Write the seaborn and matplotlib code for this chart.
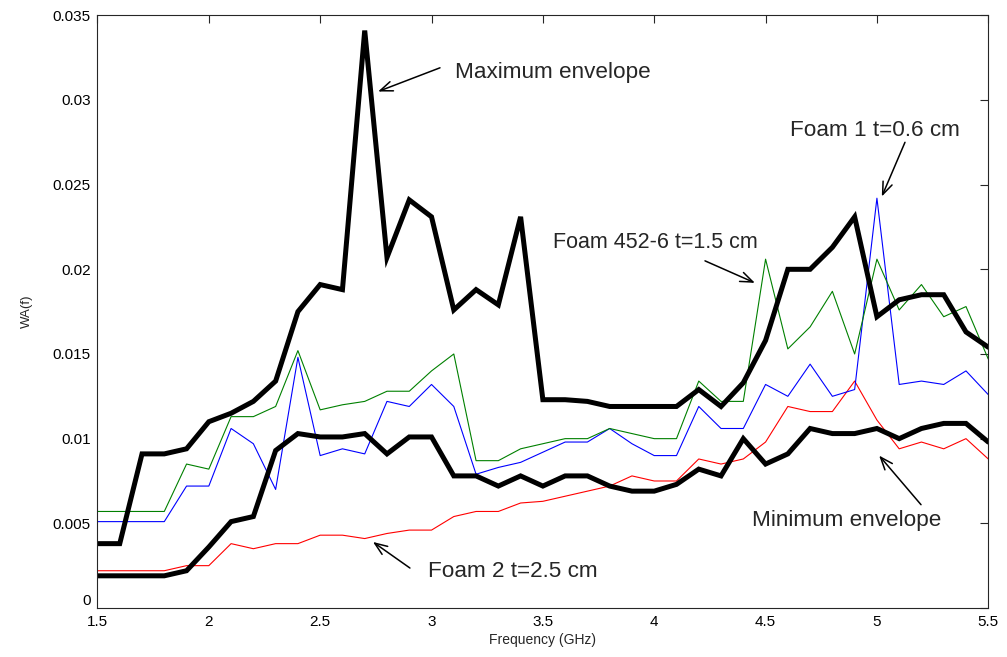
import numpy as np
import pandas as pd
import matplotlib
matplotlib.use("Agg")
import matplotlib.pyplot as plt
import seaborn as sns

freq = [round(1.5 + 0.1 * i, 1) for i in range(41)]

max_env = [0.0038, 0.0038, 0.0091, 0.0091, 0.0094, 0.0110, 0.0115, 0.0122, 0.0134, 0.0175,
           0.0191, 0.0188, 0.0341, 0.0207, 0.0241, 0.0231, 0.0176, 0.0188, 0.0179, 0.0231,
           0.0123, 0.0123, 0.0122, 0.0119, 0.0119, 0.0119, 0.0119, 0.0129, 0.0119, 0.0133,
           0.0158, 0.0200, 0.0200, 0.0213, 0.0231, 0.0172, 0.0182, 0.0185, 0.0185, 0.0163,
           0.0154]

min_env = [0.0019, 0.0019, 0.0019, 0.0019, 0.0022, 0.0036, 0.0051, 0.0054, 0.0093, 0.0103,
           0.0101, 0.0101, 0.0103, 0.0091, 0.0101, 0.0101, 0.0078, 0.0078, 0.0072, 0.0078,
           0.0072, 0.0078, 0.0078, 0.0072, 0.0069, 0.0069, 0.0073, 0.0082, 0.0078, 0.0100,
           0.0085, 0.0091, 0.0106, 0.0103, 0.0103, 0.0106, 0.0100, 0.0106, 0.0109, 0.0109,
           0.0098]

foam2 = [0.0022, 0.0022, 0.0022, 0.0022, 0.0025, 0.0025, 0.0038, 0.0035, 0.0038, 0.0038,
         0.0043, 0.0043, 0.0041, 0.0044, 0.0046, 0.0046, 0.0054, 0.0057, 0.0057, 0.0062,
         0.0063, 0.0066, 0.0069, 0.0072, 0.0078, 0.0075, 0.0075, 0.0088, 0.0085, 0.0088,
         0.0098, 0.0119, 0.0116, 0.0116, 0.0134, 0.0111, 0.0094, 0.0098, 0.0094, 0.0100,
         0.0088]

foam1 = [0.0051, 0.0051, 0.0051, 0.0051, 0.0072, 0.0072, 0.0106, 0.0097, 0.0070, 0.0148,
         0.0090, 0.0094, 0.0091, 0.0122, 0.0119, 0.0132, 0.0119, 0.0079, 0.0083, 0.0086,
         0.0092, 0.0098, 0.0098, 0.0106, 0.0097, 0.0090, 0.0090, 0.0119, 0.0106, 0.0106,
         0.0132, 0.0125, 0.0144, 0.0125, 0.0129, 0.0242, 0.0132, 0.0134, 0.0132, 0.0140,
         0.0126]

foam452 = [0.0057, 0.0057, 0.0057, 0.0057, 0.0085, 0.0082, 0.0113, 0.0113, 0.0119, 0.0152,
           0.0117, 0.0120, 0.0122, 0.0128, 0.0128, 0.0140, 0.0150, 0.0087, 0.0087, 0.0094,
           0.0097, 0.0100, 0.0100, 0.0106, 0.0103, 0.0100, 0.0100, 0.0134, 0.0122, 0.0122,
           0.0206, 0.0153, 0.0166, 0.0187, 0.0150, 0.0206, 0.0176, 0.0191, 0.0172, 0.0178,
           0.0147]

series_names = ["Foam 2", "Foam 1", "Foam 452-6", "Maximum envelope", "Minimum envelope"]
series_vals = [foam2, foam1, foam452, max_env, min_env]
colors = {"Foam 2": "#ff0000", "Foam 1": "#0000ff", "Foam 452-6": "#008000",
          "Maximum envelope": "#000000", "Minimum envelope": "#000000"}
widths = {"Foam 2": 0.8, "Foam 1": 0.8, "Foam 452-6": 0.8,
          "Maximum envelope": 3.6, "Minimum envelope": 3.6}

df = pd.concat([pd.DataFrame({"freq": freq, "wa": v, "series": n})
                for n, v in zip(series_names, series_vals)], ignore_index=True)

sns.set_style("white")
plt.rcParams['font.family'] = ['Liberation Sans', 'DejaVu Sans']

fig = plt.figure(figsize=(10.07, 6.57), dpi=100)
ax = fig.add_axes([0.0968, 0.0746, 0.8846, 0.9021])

for n in series_names:
    sub = df[df["series"] == n]
    sns.lineplot(data=sub, x="freq", y="wa", ax=ax, color=colors[n],
                 linewidth=widths[n], legend=False, estimator=None, sort=False,
                 solid_joinstyle="miter" if widths[n] > 2 else "round")

ax.set_xlim(1.5, 5.5)
ax.set_ylim(0, 0.035)
ax.set_xticks([1.5, 2, 2.5, 3, 3.5, 4, 4.5, 5, 5.5])
ax.set_xticklabels(["1.5", "2", "2.5", "3", "3.5", "4", "4.5", "5", "5.5"])
ax.set_yticks([0, 0.005, 0.01, 0.015, 0.02, 0.025, 0.03, 0.035])
ax.set_yticklabels(["0", "0.005", "0.01", "0.015", "0.02", "0.025", "0.03", "0.035"])
ax.tick_params(direction="in", length=6, width=0.8, top=True, right=True,
               labelsize=11, colors="#262626", labelcolor="black")
ax.tick_params(axis="x", pad=5)
ax.tick_params(axis="y", pad=5)
for lbl in ax.get_yticklabels():
    if lbl.get_text() == "0":
        lbl.set_va("bottom")
for s in ax.spines.values():
    s.set_color("#262626")
    s.set_linewidth(0.8)
ax.set_xlabel("Frequency (GHz)", fontsize=10, labelpad=3)
ax.set_ylabel("WA(f)", fontsize=9.5, labelpad=14)

arrow = dict(arrowstyle="->,head_length=0.9,head_width=0.35", color="black", lw=1.1,
             shrinkA=0, shrinkB=0)
fs = 16.2
ax.annotate("", xy=(2.76, 0.0305), xytext=(3.038, 0.0319), arrowprops=arrow)
ax.text(3.105, 0.0316, "Maximum envelope", fontsize=fs, va="center", ha="left")

ax.annotate("", xy=(5.022, 0.0243), xytext=(5.126, 0.0275), arrowprops=arrow)
ax.text(4.99, 0.0282, "Foam 1 t=0.6 cm", fontsize=fs, va="center", ha="center")

ax.annotate("", xy=(4.452, 0.0192), xytext=(4.228, 0.0205), arrowprops=arrow)
ax.text(3.545, 0.02156, "Foam 452-6 t=1.5 cm", fontsize=15.5, va="center", ha="left")

ax.annotate("", xy=(5.01, 0.0090), xytext=(5.198, 0.0061), arrowprops=arrow)
ax.text(4.438, 0.00514, "Minimum envelope", fontsize=fs, va="center", ha="left")

ax.annotate("", xy=(2.737, 0.0039), xytext=(2.903, 0.00236), arrowprops=arrow)
ax.text(2.984, 0.00215, "Foam 2 t=2.5 cm", fontsize=fs, va="center", ha="left")

fig.savefig("out.png", dpi=100, facecolor="white")
